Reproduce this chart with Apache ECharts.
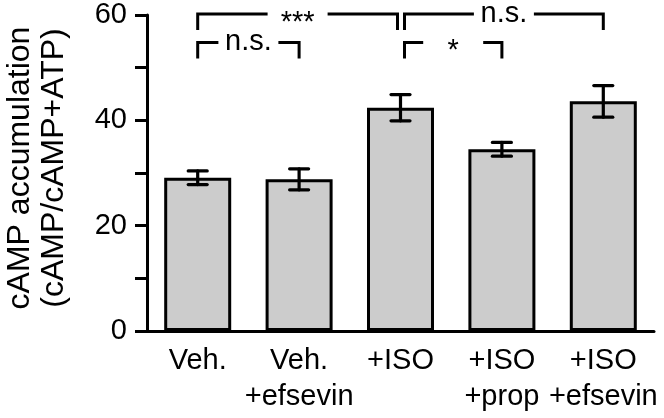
<!DOCTYPE html>
<html><head><meta charset="utf-8">
<script src="https://cdn.jsdelivr.net/npm/echarts@6/dist/echarts.min.js"></script>
<style>html,body{margin:0;padding:0;background:#fff}#c{width:664px;height:418px}</style>
</head><body><div id="c"></div>
<script>
// ---- data ----
const categories = ['Veh.', 'Veh.\n+efsevin', '+ISO', '+ISO\n+prop', '+ISO\n+efsevin'];
const means = [29.1, 28.8, 42.4, 34.5, 43.6];
const errors = [1.3, 2.0, 2.5, 1.3, 3.0];
const yTickLabels = [0, 20, 40, 60];
const bracketFrom = [0, 2, 0, 2];
const bracketTo = [2, 4, 1, 3];
const bracketLevel = [60.2, 60.2, 54.8, 54.8];
const bracketText = ['***', 'n.s.', 'n.s.', '*'];

const FONT = '"Liberation Sans", Arial, sans-serif';
const chart = echarts.init(document.getElementById('c'), null, {renderer: 'canvas'});

const errData = means.map((m, i) => [i, m - errors[i], m + errors[i]]);
const brData = bracketFrom.map((f, i) => [f, bracketTo[i], bracketLevel[i]]);

chart.setOption({
  animation: false,
  backgroundColor: '#fff',
  grid: {left: 147, right: 10, top: 15, bottom: 87, containLabel: false, outerBoundsMode: 'none'},
  xAxis: {
    type: 'category',
    data: categories,
    axisTick: {show: false},
    axisLine: {lineStyle: {color: '#000', width: 3}},
    axisLabel: {color: '#000', fontFamily: FONT, fontSize: 29, lineHeight: 36, margin: 12, interval: 0}
  },
  yAxis: {
    type: 'value',
    min: 0, max: 60, interval: 10,
    name: 'cAMP accumulation\n(cAMP/cAMP+ATP)',
    nameLocation: 'middle',
    nameRotate: 90,
    nameGap: 76,
    nameTextStyle: {color: '#000', fontFamily: FONT, fontSize: 32, lineHeight: 34, padding: [0, 0, 0, 10]},
    splitLine: {show: false},
    axisLine: {show: true, lineStyle: {color: '#000', width: 3}},
    axisTick: {show: true, length: 12, lineStyle: {color: '#000', width: 3}},
    axisLabel: {
      color: '#000', fontFamily: FONT, fontSize: 29, margin: 20,
      formatter: v => (yTickLabels.indexOf(v) >= 0 ? String(v) : '')
    }
  },
  series: [
    {
      type: 'bar',
      data: means,
      barWidth: 67,
      itemStyle: {color: '#cccccc', borderColor: '#000', borderWidth: 3},
      z: 2
    },
    {
      type: 'custom',
      data: errData,
      encode: {x: 0, y: [1, 2]},
      z: 5,
      renderItem: function (params, api) {
        const x = api.value(0);
        const lo = api.coord([x, api.value(1)]);
        const hi = api.coord([x, api.value(2)]);
        const hw = 9.5;
        const st = {stroke: '#000', lineWidth: 3.2, lineCap: 'round', fill: null};
        return {type: 'group', children: [
          {type: 'line', shape: {x1: lo[0], y1: lo[1], x2: hi[0], y2: hi[1]}, style: st},
          {type: 'line', shape: {x1: lo[0] - hw, y1: lo[1], x2: lo[0] + hw, y2: lo[1]}, style: st},
          {type: 'line', shape: {x1: hi[0] - hw, y1: hi[1], x2: hi[0] + hw, y2: hi[1]}, style: st}
        ]};
      }
    },
    {
      type: 'custom',
      data: brData,
      encode: {x: [0, 1], y: 2},
      z: 6,
      clip: false,
      renderItem: function (params, api) {
        const i = params.dataIndex;
        const f = api.value(0), t = api.value(1), lv = api.value(2);
        const a = api.coord([f, lv]);
        const b = api.coord([t, lv]);
        const left = a[0] + (bracketTo.indexOf(f) >= 0 ? 4 : 0);
        const right = b[0] - (bracketFrom.indexOf(t) >= 0 ? 3 : 0);
        const y = a[1];
        const drop = 16;
        const mid = (left + right) / 2;
        const gap = 30;
        const st = {stroke: '#000', lineWidth: 3, fill: null};
        const txt = bracketText[i];
        const isStar = txt.indexOf('*') >= 0;
        return {type: 'group', children: [
          {type: 'polyline', shape: {points: [[left, y + drop], [left, y], [mid - gap, y]]}, style: st},
          {type: 'polyline', shape: {points: [[mid + gap, y], [right, y], [right, y + drop]]}, style: st},
          {type: 'text', x: mid, y: y + (isStar ? 9 : 0), style: {
            text: txt, fill: '#000', font: '29px ' + FONT, align: 'center', verticalAlign: 'middle'
          }}
        ]};
      }
    }
  ]
});
</script>
</body></html>
